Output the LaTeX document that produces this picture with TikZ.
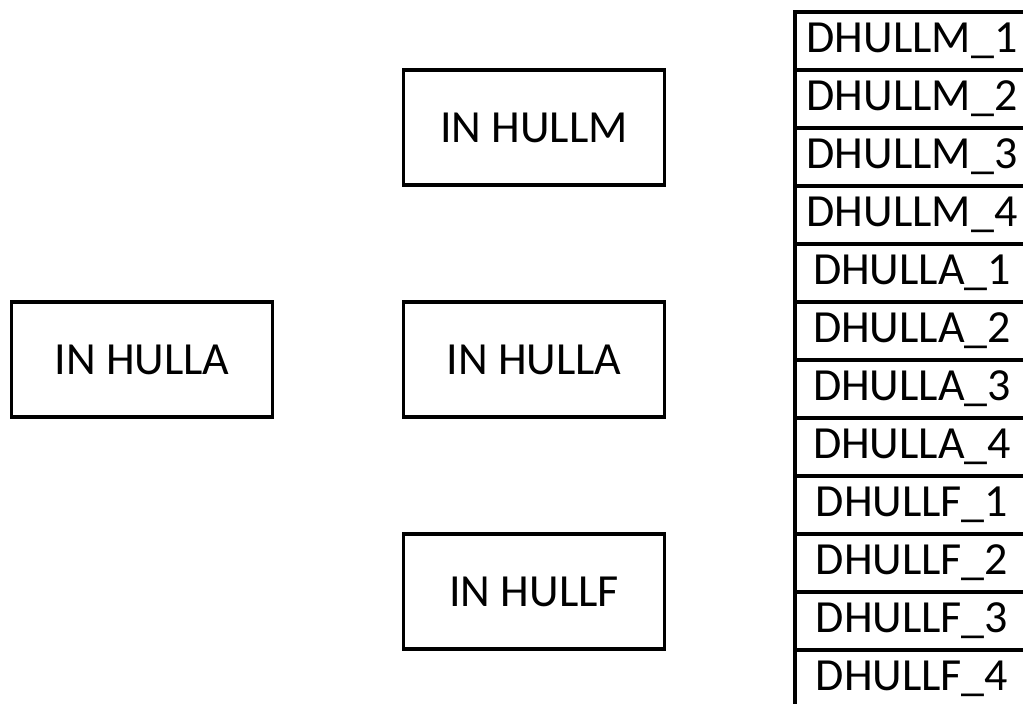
\documentclass[tikz,border=0pt]{standalone}
\usepackage{fontspec}
\setmainfont{Carlito}
\begin{document}
\begin{tikzpicture}[x=0.5pt,y=-0.5pt,
  box/.style={draw=black,line width=1.7pt,minimum width=130.5pt,minimum height=57.5pt,
    inner sep=0pt,font=\fontsize{23}{27}\selectfont},
  cell/.style={draw=black,line width=1.7pt,minimum width=117pt,minimum height=29pt,
    inner sep=0pt,font=\fontsize{23}{27}\selectfont}]
\useasboundingbox (0,0) rectangle (1023,704);
\clip (0,0) rectangle (1023,704);
% source and group boxes
\node[box] (src) at (142,359.5) {IN HULLA};
\node[box] (gm) at (534,127.5) {IN HULLM};
\node[box] (ga) at (534,359.5) {IN HULLA};
\node[box] (gf) at (534,591.5) {IN HULLF};
% list of output variables
\foreach \t [count=\k] in {DHULLM\_1,DHULLM\_2,DHULLM\_3,DHULLM\_4,
                           DHULLA\_1,DHULLA\_2,DHULLA\_3,DHULLA\_4,
                           DHULLF\_1,DHULLF\_2,DHULLF\_3,DHULLF\_4}
  \node[cell] (c\k) at (912,{41+58*(\k-1)}) {\t};
\end{tikzpicture}
\end{document}
